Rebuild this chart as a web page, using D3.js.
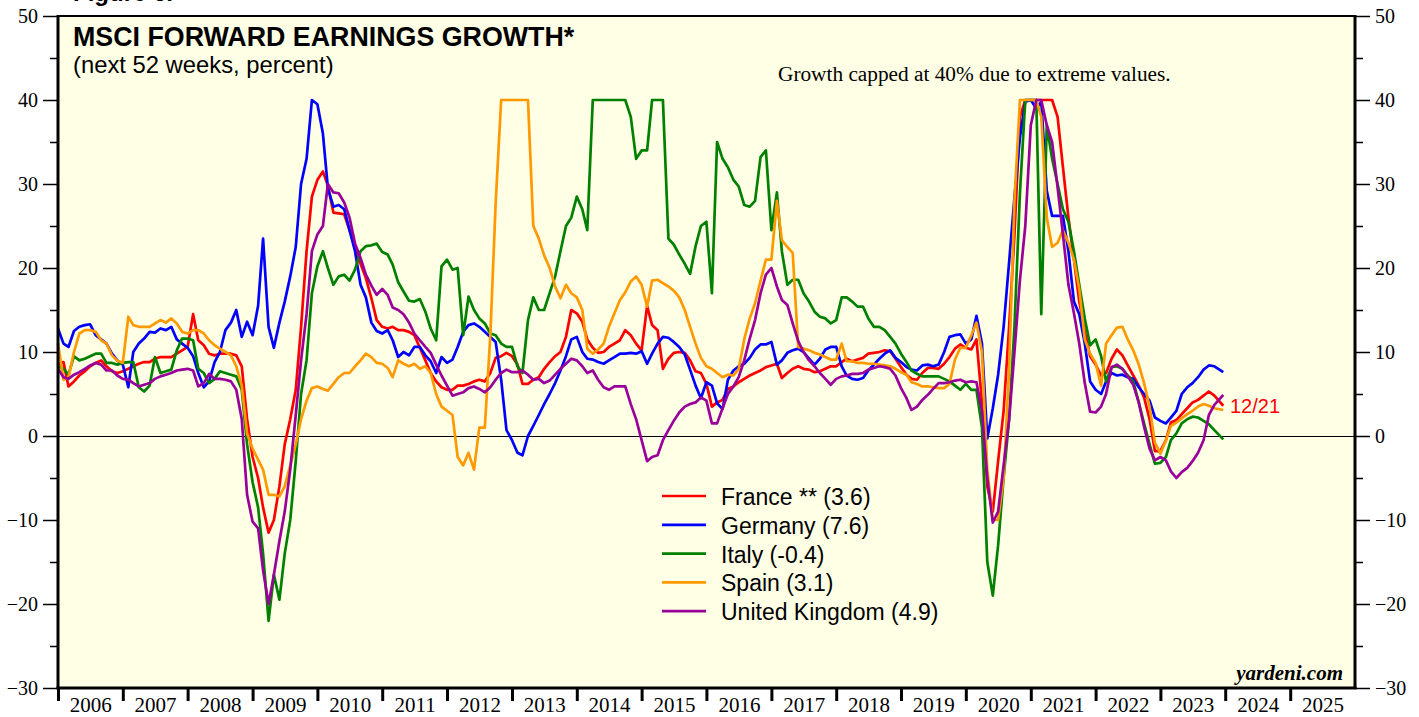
<!DOCTYPE html>
<html>
<head>
<meta charset="utf-8">
<script src="https://cdnjs.cloudflare.com/ajax/libs/d3/7.8.5/d3.min.js"></script>
<style>
    body { margin: 0; background: #ffffff; }
    svg text { fill: #000; }
</style>
</head>
<body>
<svg id="chart" width="1419" height="717"></svg>
<script>

// one value per month, Jan 2006 .. Dec 2023 (last point is 12/21/2023)
let france = [
    8.5, 8.8, 5.9, 6.5, 7.2, 7.7, 8.3, 8.7, 9.0, 8.3, 7.7, 7.5,
    7.7, 8.0, 8.3, 8.6, 8.8, 8.8, 9.2, 9.4, 9.4, 9.4, 9.8, 10.2,
    10.6, 14.5, 11.4, 10.8, 9.8, 9.6, 9.8, 9.8, 9.8, 9.6, 8.3, 2.0,
    -2.5, -5.0, -8.5, -11.5, -10.0, -6.0, -1.0, 2.0, 5.5, 13.0, 22.0, 28.5,
    30.5, 31.5, 29.8, 26.6, 26.5, 26.4, 24.5, 22.5, 20.5, 18.8, 16.4, 13.8,
    13.0, 12.8, 13.0, 12.6, 12.6, 12.4, 12.0, 10.5, 9.0, 7.5, 6.5, 5.8,
    5.5, 5.5, 6.0, 6.0, 6.2, 6.5, 6.7, 6.5, 7.5, 9.3, 9.5, 9.9,
    9.5, 8.5, 6.2, 6.2, 6.7, 7.0, 8.0, 8.8, 9.5, 10.0, 11.8, 15.0,
    14.6, 13.6, 11.5, 10.5, 9.9, 10.0, 10.6, 11.0, 11.4, 12.6, 12.0, 11.0,
    10.2, 15.5, 13.2, 12.6, 8.0, 9.2, 9.9, 10.0, 9.9, 9.0, 7.7, 7.5,
    6.2, 3.5, 4.0, 4.3, 5.6, 5.9, 6.4, 6.8, 7.2, 7.5, 7.8, 8.2,
    8.4, 8.6, 6.9, 7.5, 8.0, 8.3, 8.0, 7.9, 7.6, 7.7, 8.0, 8.3,
    8.3, 8.8, 9.2, 8.9, 9.1, 9.3, 9.8, 9.9, 10.0, 10.2, 10.1, 9.2,
    8.2, 7.3, 6.8, 6.7, 7.5, 8.1, 8.1, 8.0, 8.6, 9.4, 10.4, 10.9,
    10.5, 10.3, 11.5, 4.0, -6.0, -9.0, -3.0, 3.0, 13.0, 24.0, 38.0, 40.0,
    40.0, 40.0, 40.0, 40.0, 40.0, 38.0, 32.0, 26.0, 21.0, 16.0, 12.5, 9.5,
    8.5, 7.2, 7.5, 9.2, 10.3, 9.6, 8.4, 7.2, 6.0, 4.6, 2.0, -1.8,
    -1.8, -0.5, 1.6, 1.9, 2.6, 3.3, 4.0, 4.3, 4.8, 5.3, 4.8, 3.6
];

let germany = [
    12.8, 11.0, 10.6, 12.5, 13.0, 13.2, 13.3, 12.0, 11.5, 11.0, 9.8, 9.0,
    8.5, 5.8, 10.0, 11.0, 11.6, 12.4, 12.3, 12.8, 12.6, 13.0, 11.5, 11.0,
    10.5, 9.5, 7.5, 5.8, 6.5, 8.8, 10.0, 12.6, 13.5, 15.0, 11.8, 13.6,
    12.0, 15.5, 23.5, 13.0, 10.5, 13.5, 16.0, 19.0, 22.5, 30.0, 33.0, 40.0,
    39.5, 36.0, 29.5, 27.3, 27.5, 27.0, 24.5, 22.0, 18.0, 16.5, 13.5, 12.5,
    12.2, 12.6, 11.4, 9.4, 10.0, 9.6, 10.6, 10.6, 9.6, 8.9, 7.5, 9.4,
    8.7, 9.1, 10.6, 12.4, 13.2, 13.4, 13.0, 12.4, 11.8, 11.2, 6.7, 0.7,
    -0.5, -2.0, -2.3, 0.0, 1.2, 2.5, 3.8, 5.0, 6.3, 7.8, 9.5, 11.5,
    11.8, 10.0, 9.2, 9.1, 8.8, 8.6, 9.0, 9.4, 9.8, 9.8, 9.9, 9.8,
    10.1, 8.6, 9.8, 11.0, 11.8, 11.7, 11.2, 10.6, 9.7, 7.9, 6.0, 4.5,
    6.4, 6.0, 3.9, 3.2, 6.7, 7.8, 8.3, 8.6, 9.3, 10.3, 10.9, 10.9,
    11.2, 8.5, 9.0, 9.9, 10.2, 10.4, 10.0, 9.2, 8.5, 9.2, 10.3, 10.6,
    10.6, 8.3, 7.2, 6.8, 6.7, 6.9, 7.8, 8.5, 9.2, 9.8, 10.2, 9.3,
    8.8, 8.2, 7.9, 7.8, 8.4, 8.5, 8.3, 8.5, 10.0, 11.8, 12.0, 12.1,
    11.0, 11.5, 14.3, 11.0, -0.3, 3.3, 7.3, 13.0, 20.7, 28.4, 35.6, 39.8,
    40.0, 39.0, 39.8, 29.2, 26.2, 26.2, 26.2, 22.0, 16.0, 14.5, 11.0, 6.5,
    5.5, 5.0, 6.5, 7.5, 7.2, 7.3, 7.0, 6.8, 5.8, 5.0, 4.2, 2.2,
    1.8, 1.5, 2.2, 3.0, 5.0, 5.8, 6.3, 7.0, 7.9, 8.4, 8.3, 7.6
];

let italy = [
    8.3, 8.0, 7.3, 9.5, 9.0, 9.2, 9.5, 9.8, 9.8, 8.7, 8.7, 8.5,
    8.7, 8.8, 8.8, 5.8, 5.3, 6.0, 9.4, 7.5, 7.7, 7.9, 10.2, 11.6,
    11.6, 11.4, 8.0, 7.5, 6.3, 6.8, 7.7, 7.5, 7.3, 7.1, 5.5, -1.0,
    -5.5, -8.5, -14.0, -22.0, -16.5, -19.5, -14.0, -10.0, -3.0, 5.0, 9.0, 17.0,
    20.2, 22.0, 20.0, 18.0, 19.0, 19.2, 18.5, 19.8, 22.0, 22.6, 22.7, 22.9,
    21.9, 21.6, 20.4, 18.3, 17.2, 16.1, 16.0, 16.3, 14.8, 12.8, 11.4, 20.2,
    21.0, 19.8, 20.0, 12.0, 16.6, 15.0, 14.0, 13.4, 12.2, 12.0, 11.0, 10.6,
    10.6, 8.3, 7.5, 13.8, 16.5, 15.0, 15.0, 17.0, 19.0, 22.0, 25.0, 26.0,
    28.5, 27.0, 24.5, 40.0, 40.0, 40.0, 40.0, 40.0, 40.0, 40.0, 38.0, 33.0,
    34.0, 34.0, 40.0, 40.0, 40.0, 23.5, 22.8, 21.6, 20.5, 19.3, 22.6, 25.0,
    25.5, 17.0, 35.0, 33.0, 32.0, 30.5, 29.7, 27.5, 27.3, 28.0, 33.2, 34.0,
    24.5, 29.0, 22.0, 18.0, 18.6, 18.6, 17.0, 16.0, 14.8, 14.2, 14.0, 13.4,
    13.8, 16.5, 16.5, 16.0, 15.4, 15.4, 14.0, 13.0, 13.0, 12.6, 11.8, 11.0,
    9.8, 8.8, 7.8, 7.4, 7.1, 7.1, 7.1, 7.1, 6.8, 6.5, 6.0, 5.5,
    6.2, 5.5, 5.5, 1.0, -15.0, -19.0, -13.0, -5.0, 2.0, 13.0, 29.0, 40.0,
    40.0, 40.0, 14.5, 37.0, 33.0, 30.0, 27.0, 25.5, 22.0, 18.0, 14.0, 10.8,
    11.5, 9.5, 6.5, 8.2, 8.3, 8.0, 7.2, 6.5, 4.0, 1.5, -1.0, -3.3,
    -3.2, -2.5, -0.5, 0.3, 1.5, 2.0, 2.3, 2.2, 1.8, 1.4, 0.7, -0.4
];

let spain = [
    11.0, 6.7, 7.0, 10.0, 12.2, 12.6, 12.6, 12.4, 11.4, 11.0, 9.6, 9.0,
    8.7, 14.2, 13.2, 13.0, 13.0, 13.0, 13.4, 13.8, 13.5, 14.0, 13.4, 12.4,
    12.2, 12.6, 12.6, 12.2, 11.4, 10.8, 10.4, 10.0, 9.6, 8.3, 6.0, 0.3,
    -1.5, -2.8, -4.0, -7.0, -7.0, -7.2, -6.0, -3.5, -1.0, 2.0, 4.2, 5.7,
    5.9, 5.6, 5.4, 6.2, 7.0, 7.5, 7.5, 8.3, 9.0, 9.8, 9.4, 8.7,
    8.6, 8.1, 7.0, 9.0, 8.6, 8.3, 8.6, 8.0, 8.3, 7.5, 5.0, 3.5,
    3.0, 2.5, -2.5, -3.5, -2.0, -4.0, 1.0, 1.0, 12.0, 27.7, 40.0, 40.0,
    40.0, 40.0, 40.0, 40.0, 25.0, 23.5, 21.5, 20.0, 17.8, 16.4, 18.0, 17.0,
    16.5, 15.0, 10.4, 9.8, 10.3, 11.0, 13.0, 14.6, 16.2, 17.1, 18.4, 19.0,
    18.0, 15.4, 18.5, 18.6, 18.2, 17.8, 17.3, 16.5, 15.0, 13.0, 11.0, 9.3,
    8.3, 8.0, 7.5, 7.0, 7.3, 7.2, 8.0, 11.5, 14.0, 15.8, 18.5, 21.0,
    21.0, 28.0, 23.3, 22.5, 21.8, 10.6, 10.4, 10.2, 9.9, 9.7, 9.4, 9.1,
    9.1, 11.0, 8.9, 8.9, 8.7, 8.7, 8.6, 8.6, 8.5, 8.4, 8.3, 8.0,
    7.6, 7.3, 6.4, 6.2, 5.9, 5.9, 5.8, 5.7, 5.7, 6.2, 9.1, 10.5,
    10.5, 12.0, 13.5, 10.0, -4.0, -10.0, -10.0, -5.0, 8.0, 28.0, 40.0, 40.0,
    40.0, 40.0, 38.0, 26.0, 22.5, 23.0, 24.5, 23.0, 21.0, 17.5, 11.5, 9.8,
    8.7, 6.0, 11.0, 12.0, 12.9, 13.0, 11.5, 10.2, 8.5, 6.3, 3.5, -0.8,
    -2.1, -0.5, 1.2, 1.6, 2.1, 2.6, 3.0, 3.5, 3.8, 3.6, 3.3, 3.1
];

let unitedKingdom = [
    8.0, 7.0, 6.8, 7.3, 7.6, 8.0, 8.4, 8.7, 8.5, 7.8, 7.8, 7.2,
    6.8, 6.7, 6.3, 5.9, 6.1, 6.3, 6.8, 7.1, 7.3, 7.5, 7.8, 7.9,
    8.0, 7.8, 5.9, 6.3, 7.4, 6.8, 6.8, 6.7, 6.5, 5.5, 2.0, -7.0,
    -10.2, -11.0, -16.0, -20.0, -16.5, -12.5, -9.0, -4.0, 2.5, 9.0, 14.5, 22.0,
    24.0, 25.0, 30.0, 29.0, 28.9, 27.8, 26.0, 22.9, 21.2, 19.2, 17.9, 16.8,
    17.5, 16.8, 15.3, 15.0, 14.5, 13.5, 12.2, 11.4, 10.6, 9.9, 8.5, 7.2,
    6.0, 4.8, 5.0, 5.2, 5.7, 5.9, 5.6, 5.2, 5.8, 6.7, 7.5, 7.9,
    7.6, 7.6, 7.8, 7.3, 6.7, 6.8, 6.3, 6.6, 7.3, 8.0, 8.6, 9.2,
    9.0, 8.3, 7.5, 7.8, 6.7, 5.8, 5.5, 5.9, 5.9, 5.9, 3.8, 2.0,
    -0.5, -3.0, -2.5, -2.3, -0.5, 0.7, 1.8, 2.8, 3.5, 3.8, 4.0, 4.6,
    4.2, 1.5, 1.5, 3.3, 5.0, 5.9, 7.0, 9.0, 11.6, 13.8, 17.0, 19.2,
    20.0, 17.8, 16.2, 15.6, 13.4, 11.3, 10.0, 9.0, 8.3, 7.5, 6.8, 6.1,
    6.8, 7.1, 7.2, 7.4, 7.4, 7.5, 7.9, 8.1, 8.3, 8.2, 8.0, 7.2,
    5.7, 4.5, 3.1, 3.5, 4.3, 4.9, 5.6, 6.3, 6.3, 6.4, 6.6, 6.7,
    6.4, 6.5, 6.4, 3.0, -5.0, -10.3, -9.0, -3.5, 2.0, 10.0, 18.6, 25.0,
    37.0, 40.0, 40.0, 37.0, 35.0, 29.6, 24.0, 18.0, 14.6, 11.0, 6.3, 2.9,
    2.8, 3.5, 5.0, 8.2, 8.5, 8.0, 7.1, 6.1, 4.0, 1.1, -1.5, -2.9,
    -2.5, -2.9, -4.2, -5.0, -4.3, -3.8, -3.0, -2.0, -0.5, 2.5, 3.7, 4.9
];

let seriesLabels = ["France ** (3.6)", "Germany (7.6)", "Italy (-0.4)", "Spain (3.1)", "United Kingdom (4.9)"];
let seriesColors = ["#ff0000", "#0000ff", "#008000", "#ff9900", "#990099"];

let yearLabels = ["2006", "2007", "2008", "2009", "2010", "2011", "2012", "2013", "2014", "2015",
    "2016", "2017", "2018", "2019", "2020", "2021", "2022", "2023", "2024", "2025"];
let yMajorTicks = [-30, -20, -10, 0, 10, 20, 30, 40, 50];
let yMinorTicks = [-25, -15, -5, 5, 15, 25, 35, 45];


class EarningsChart {

    constructor(series) {
        this.series = series;
        this.margin = { top: 16, right: 64, bottom: 29, left: 58 };
        this.width = 1419;
        this.height = 717;
    }

    draw() {
        let svg = d3.select("#chart");
        let left = this.margin.left;
        let right = this.width - this.margin.right;
        let top = this.margin.top;
        let bottom = this.height - this.margin.bottom;

        // monthly dates, last observation on 12/21
        let dates = d3.range(france.length).map(i => new Date(2006, i, 1));
        dates[dates.length - 1] = new Date(2023, 11, 21);

        let xScale = d3.scaleTime()
            .domain([new Date(2006, 0, 1), new Date(2026, 0, 1)])
            .range([left, right]);

        let yScale = d3.scaleLinear()
            .domain([-30, 50])
            .range([bottom, top]);

        svg.append("rect")
            .attr("x", left)
            .attr("y", top)
            .attr("width", right - left)
            .attr("height", bottom - top)
            .attr("fill", "#ffffe6");

        // y axes, left and right
        let serif = "'Liberation Serif', 'Times New Roman', serif";
        let axes = [
            { axis: d3.axisLeft, x: left },
            { axis: d3.axisRight, x: right }
        ];
        for (let a of axes) {
            let major = svg.append("g")
                .attr("transform", "translate(" + a.x + ",0)")
                .call(a.axis(yScale).tickValues(yMajorTicks).tickSize(15).tickPadding(5).tickFormat(d3.format("d")));
            major.select(".domain").remove();
            major.selectAll("line").attr("stroke", "#000").attr("stroke-width", 1.5);
            major.selectAll("text").attr("font-family", serif).attr("font-size", 20).attr("fill", "#000");

            let minor = svg.append("g")
                .attr("transform", "translate(" + a.x + ",0)")
                .call(a.axis(yScale).tickValues(yMinorTicks).tickSize(8).tickFormat(""));
            minor.select(".domain").remove();
            minor.selectAll("line").attr("stroke", "#000").attr("stroke-width", 1.5);
        }

        // x axis: ticks on year boundaries, labels centred in each year
        let yearStarts = yearLabels.map(y => new Date(+y, 0, 1));
        let xTicks = svg.append("g")
            .attr("transform", "translate(0," + bottom + ")")
            .call(d3.axisBottom(xScale).tickValues(yearStarts).tickSize(13).tickFormat(""));
        xTicks.select(".domain").remove();
        xTicks.selectAll("line").attr("stroke", "#000").attr("stroke-width", 3);

        let xLabels = svg.append("g")
            .attr("transform", "translate(0," + bottom + ")")
            .call(d3.axisBottom(xScale)
                .tickValues(yearLabels.map(y => new Date(+y, 6, 2)))
                .tickSize(0).tickPadding(9)
                .tickFormat(d3.timeFormat("%Y")));
        xLabels.select(".domain").remove();
        xLabels.selectAll("text").attr("font-family", serif).attr("font-size", 21).attr("fill", "#000");

        // zero line
        svg.append("line")
            .attr("x1", left).attr("x2", right)
            .attr("y1", Math.round(yScale(0)) + 0.5).attr("y2", Math.round(yScale(0)) + 0.5)
            .attr("stroke", "#000").attr("stroke-width", 1)
            .attr("shape-rendering", "crispEdges");

        let line = d3.line()
            .x((d, i) => xScale(dates[i]))
            .y(d => yScale(d));

        for (let i = 0; i < this.series.length; i++) {
            svg.append("path")
                .datum(this.series[i])
                .attr("fill", "none")
                .attr("stroke", seriesColors[i])
                .attr("stroke-width", 2.7)
                .attr("stroke-linejoin", "round")
                .attr("d", line);
        }

        // frame
        svg.append("line").attr("x1", left - 1.5).attr("x2", right + 1.5).attr("y1", top).attr("y2", top)
            .attr("stroke", "#000").attr("stroke-width", 2);
        svg.append("line").attr("x1", left - 1.5).attr("x2", right + 1.5).attr("y1", bottom).attr("y2", bottom)
            .attr("stroke", "#000").attr("stroke-width", 3);
        svg.append("line").attr("x1", left).attr("x2", left).attr("y1", top).attr("y2", bottom)
            .attr("stroke", "#000").attr("stroke-width", 3);
        svg.append("line").attr("x1", right).attr("x2", right).attr("y1", top).attr("y2", bottom)
            .attr("stroke", "#000").attr("stroke-width", 3);

        // titles
        let sans = "'Liberation Sans', Arial, sans-serif";
        svg.append("text")
            .attr("x", 73).attr("y", 1)
            .attr("font-family", sans).attr("font-weight", "bold").attr("font-size", 24)
            .text("Figure 6.");
        svg.append("text")
            .attr("x", 73).attr("y", 46)
            .attr("font-family", sans).attr("font-weight", "bold").attr("font-size", 26.8)
            .text("MSCI FORWARD EARNINGS GROWTH*");
        svg.append("text")
            .attr("x", 73).attr("y", 73)
            .attr("font-family", sans).attr("font-size", 23.8)
            .text("(next 52 weeks, percent)");
        svg.append("text")
            .attr("x", 778).attr("y", 81)
            .attr("font-family", serif).attr("font-size", 21.3)
            .text("Growth capped at 40% due to extreme values.");

        // legend
        let legend = svg.append("g").attr("transform", "translate(662,496)");
        seriesLabels.forEach(function (label, i) {
            legend.append("line")
                .attr("x1", 0).attr("x2", 44)
                .attr("y1", i * 28.8).attr("y2", i * 28.8)
                .attr("stroke", seriesColors[i])
                .attr("stroke-width", 2.7);
            legend.append("text")
                .attr("x", 59).attr("y", i * 28.8 + 9)
                .attr("font-family", sans).attr("font-size", 23)
                .text(label);
        });

        svg.append("text")
            .attr("x", 1230).attr("y", 413)
            .attr("font-family", sans).attr("font-size", 20)
            .style("fill", "#ff0000")
            .text("12/21");

        svg.append("text")
            .attr("x", 1343).attr("y", 680)
            .attr("text-anchor", "end")
            .attr("font-family", serif).attr("font-weight", "bold").attr("font-style", "italic").attr("font-size", 21)
            .text("yardeni.com");
    }
}

let chart = new EarningsChart([france, germany, italy, spain, unitedKingdom]);
chart.draw();

</script>
</body>
</html>
